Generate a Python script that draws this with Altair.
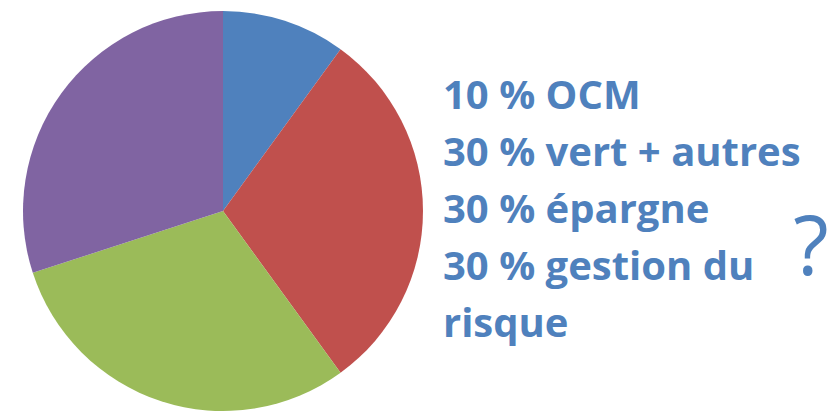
import altair as alt
import pandas as pd

categories = ["OCM", "vert + autres", "épargne", "gestion du risque"]
shares = [10, 30, 30, 30]
colors = ["#4F81BD", "#C0504D", "#9BBB59", "#8064A2"]
text_lines = ["10 % OCM", "30 % vert + autres", "30 % épargne", "30 % gestion du", "risque"]
question = ["?"]

pie_df = pd.DataFrame({"cat": categories, "share": shares, "order": list(range(len(categories)))})
txt_df = pd.DataFrame({"line": list(range(len(text_lines))), "text": text_lines})
q_df = pd.DataFrame({"text": question})

W, H = 820, 404

pie = alt.Chart(pie_df).mark_arc(radius=200, stroke=None).encode(
    theta=alt.Theta("share:Q", stack=True),
    color=alt.Color("cat:N", scale=alt.Scale(domain=categories, range=colors), legend=None),
    order=alt.Order("order:Q"),
    x=alt.value(215),
    y=alt.value(203),
)

txt = alt.Chart(txt_df).mark_text(
    align="left", baseline="alphabetic", font="Open Sans", fontWeight="bold", fontSize=40, color="#4F81BD"
).encode(
    x=alt.value(435),
    y=alt.Y("line:Q", scale=alt.Scale(domain=[0, 4], range=[101, 329]), axis=None),
    text="text:N",
)

q = alt.Chart(q_df).mark_text(
    align="center", baseline="alphabetic", font="Open Sans", fontSize=82, color="#4F81BD"
).encode(
    x=alt.value(803),
    y=alt.value(267),
    text="text:N",
)

chart = alt.layer(pie, txt, q).properties(
    width=W, height=H, autosize=alt.AutoSizeParams(type="none"), padding=0
).configure_view(stroke=None)

chart.save("out.html", embed_options={"renderer": "svg", "actions": False})
